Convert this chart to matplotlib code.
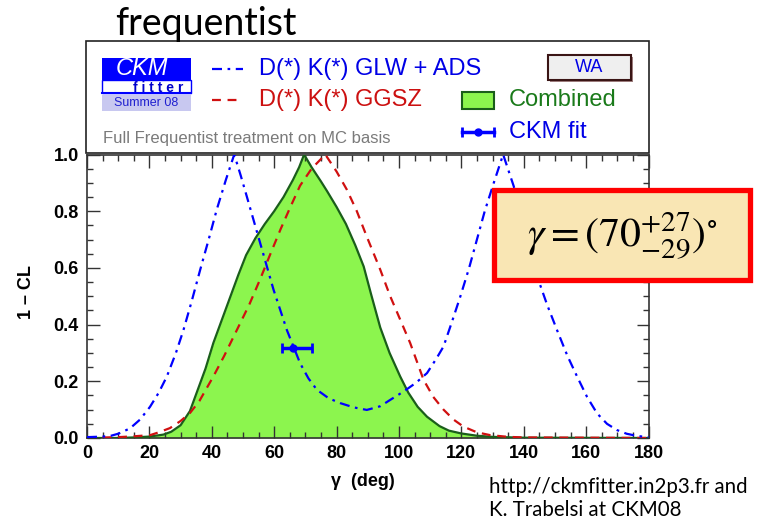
import numpy as np
import matplotlib.pyplot as plt
from matplotlib.patches import Rectangle

plt.rcParams['font.family'] = ['Liberation Sans', 'DejaVu Sans']
plt.rcParams['mathtext.fontset'] = 'stix'

# ---------- Data: 1 - CL vs gamma (deg) ----------

# D(*) K(*) GLW + ADS
glw_x = [0, 5, 7.4, 10, 13.8, 17, 20.2, 23, 25.6, 28.5, 30.9, 33.5, 36.3, 39, 41.6, 44.5,
         47.2, 49.3, 51.2, 55.5, 59.8, 64.1, 68.3, 71, 73.7, 77.5, 81.2, 85.5, 89.7, 94,
         98, 101.5, 105.5, 109, 112, 114.3, 117, 119.7, 122.5, 125, 127.5, 130.4, 133.4,
         136.8, 140.5, 144.3, 147.5, 150.7, 154, 157.1, 160.3, 163.5, 166.7, 169.9, 173,
         176.4, 180]
glw_y = [0.003, 0.005, 0.007, 0.015, 0.034, 0.065, 0.11, 0.16, 0.217, 0.30, 0.38, 0.48,
         0.594, 0.70, 0.806, 0.91, 1.0, 0.925, 0.853, 0.688, 0.523, 0.38, 0.264, 0.21,
         0.17, 0.14, 0.123, 0.108, 0.099, 0.112, 0.14, 0.164, 0.195, 0.229, 0.28, 0.323,
         0.41, 0.5, 0.60, 0.70, 0.80, 0.90, 1.0, 0.888, 0.73, 0.57, 0.47, 0.38, 0.29,
         0.217, 0.145, 0.087, 0.05, 0.028, 0.015, 0.007, 0.003]

# D(*) K(*) GGSZ
ggsz_x = [0, 10, 15, 20.2, 23, 26.6, 30, 33, 36, 40.5, 44, 48, 52, 55.5, 59, 62, 65, 68.3,
          72, 76.4, 80, 83.3, 86.5, 89.7, 94, 97.2, 100.5, 103.6, 107.9, 111, 114.3, 117.5,
          120.7, 125, 129.3, 135, 140, 180]
ggsz_y = [0.0, 0.003, 0.006, 0.01, 0.02, 0.035, 0.06, 0.088, 0.13, 0.217, 0.29, 0.38, 0.47,
          0.56, 0.655, 0.735, 0.81, 0.89, 0.95, 1.0, 0.94, 0.876, 0.80, 0.71, 0.594, 0.50,
          0.415, 0.335, 0.205, 0.145, 0.10, 0.065, 0.04, 0.02, 0.01, 0.004, 0.002, 0.0]

# Combined
comb_x = [0, 10, 15, 20, 24.5, 27, 30, 33, 35, 38, 40.5, 43, 46, 48.5, 51, 54, 57, 60, 63,
          66, 68, 69.6, 72, 75, 77, 80, 83, 86, 88.7, 91, 94, 97, 100.4, 103, 106, 109, 113,
          116, 120, 125, 130, 140, 180]
comb_y = [0.0, 0.0, 0.002, 0.005, 0.012, 0.022, 0.045, 0.095, 0.155, 0.245, 0.335, 0.41,
          0.50, 0.575, 0.645, 0.705, 0.755, 0.80, 0.85, 0.91, 0.955, 1.0, 0.955, 0.905,
          0.87, 0.815, 0.755, 0.68, 0.605, 0.51, 0.39, 0.30, 0.217, 0.16, 0.11, 0.075,
          0.042, 0.026, 0.016, 0.008, 0.004, 0.001, 0.0]

# CKM fit point
fit_x = 66.0
fit_y = 0.317
fit_err_lo = 3.6
fit_err_hi = 6.0

x_ticks = [0, 20, 40, 60, 80, 100, 120, 140, 160, 180]
y_ticks = [0.0, 0.2, 0.4, 0.6, 0.8, 1.0]

blue = '#0000ff'
red = '#d01010'
green_fill = '#8cf54e'
green_edge = '#1a5e1a'

W, H = 758, 526
fig = plt.figure(figsize=(W/100, H/100), dpi=100)

# main plot
ax = fig.add_axes([87/W, 1-438/H, 561.5/W, 283.5/H])
ax.fill_between(comb_x, comb_y, 0, color=green_fill, lw=0, zorder=1)
ax.plot(comb_x, comb_y, color=green_edge, lw=1.6, zorder=3)
ax.plot(ggsz_x, ggsz_y, color=red, lw=1.6, dashes=(4, 3), zorder=4)
ax.plot(glw_x, glw_y, color=blue, lw=1.6, dashes=(4.5, 2.5, 1.2, 2.5), zorder=5)
ax.errorbar(fit_x, fit_y, xerr=[[fit_err_lo], [fit_err_hi]], fmt='o', color=blue,
            ms=5, elinewidth=2.5, capsize=3.3, capthick=2, zorder=6)

ax.set_xlim(0, 180)
ax.set_ylim(0, 1)
ax.set_xticks(x_ticks)
ax.set_yticks(y_ticks)
ax.set_xticks(np.arange(0, 181, 5), minor=True)
ax.set_yticks(np.arange(0, 1.001, 0.05), minor=True)
ax.set_yticklabels(['%.1f' % v for v in y_ticks])
ax.tick_params(which='both', direction='in', top=True, right=True, color='#333333',
               labelsize=13, width=1.0)
ax.tick_params(which='major', length=9)
ax.tick_params(which='minor', length=4.5)
ax.tick_params(axis='y', pad=6)
ax.tick_params(axis='x', pad=5)
for lab in ax.get_xticklabels() + ax.get_yticklabels():
    lab.set_fontweight('bold')
for sp in ax.spines.values():
    sp.set_linewidth(1.2)
    sp.set_color('#333333')

ax.set_ylabel('1 \u2013 CL', fontsize=13, fontweight='bold')
ax.yaxis.set_label_coords(-0.093, 0.516)
ax.set_xlabel('\u03b3  (deg)', fontsize=13, fontweight='bold')
ax.xaxis.set_label_coords(0.492, -0.125)

# overlay in pixel units for the legend panel and labels
ov = fig.add_axes([0, 0, 1, 1])
ov.set_xlim(0, W)
ov.set_ylim(H, 0)
ov.axis('off')
ov.patch.set_visible(False)

# legend frame
ov.add_patch(Rectangle((85.7, 41), 563.3, 112, fill=False, ec='#222222', lw=1.2))

# CKMfitter logo
ov.add_patch(Rectangle((102.3, 57.7), 88.7, 22.5, fc='#0000ff', ec='none', zorder=1))
ov.text(142, 68.5, 'CKM', color='white', fontsize=17, style='italic', ha='center',
        va='center', zorder=5)
ov.add_patch(Rectangle((102.3, 80.2), 88.7, 13.1, fc='white', ec='#0000ff', lw=1.0,
                       zorder=1))
ov.plot([102.3, 191], [93.3, 93.3], color='#0000ff', lw=1.5, zorder=2)
ov.text(158, 91.5, 'f i t t e r', color='#0000cc', fontsize=10, fontweight='bold',
        ha='center', va='baseline', zorder=5)
ov.add_patch(Rectangle((102.3, 94.5), 88.7, 16.5, fc='#c8c8f0', ec='none', zorder=1))
ov.text(146.6, 103, 'Summer 08', color='#2020d0', fontsize=9, ha='center', va='center',
        zorder=5)

# legend entries
ov.plot([211.7, 243.3], [68.7, 68.7], color=blue, lw=1.6, dashes=(4.5, 2.5, 1.2, 2.5))
ov.text(259, 68.7, 'D(*) K(*) GLW + ADS', color='#0000e6', fontsize=17, va='center')
ov.plot([211.7, 243.3], [100.3, 100.3], color=red, lw=1.6, dashes=(4, 3))
ov.text(259, 100.3, 'D(*) K(*) GGSZ', color='#cc1010', fontsize=17, va='center')
ov.add_patch(Rectangle((461.7, 92), 32.6, 16.7, fc=green_fill, ec=green_edge, lw=1.5))
ov.text(509, 100.3, 'Combined', color='#1a7a1a', fontsize=17, va='center')
ov.plot([461.7, 494.3], [131.7, 131.7], color=blue, lw=2.5)
ov.plot([461.7, 494.3], [131.7, 131.7], color=blue, ls='none', marker='|', ms=6.5, mew=2)
ov.plot([478], [131.7], color=blue, marker='o', ms=5)
ov.text(509, 131.7, 'CKM fit', color='#0000e6', fontsize=17, va='center')
ov.text(102.7, 139, 'Full Frequentist treatment on MC basis', color='#7a7a7a',
        fontsize=12, va='center')

# WA button
ov.add_patch(Rectangle((549.5, 57), 83.3, 25.3, fc='#a08080', ec='none'))
ov.add_patch(Rectangle((547.7, 55), 83.3, 25.3, fc='#efefef', ec='#3a1515', lw=1.5))
ov.text(589.5, 68, 'WA', color='#0000e6', fontsize=13, ha='center', va='center')

# result box
ov.add_patch(Rectangle((493.5, 189.5), 256, 90, fc='#f9e6b4', ec='#ff0000', lw=3.8))
ov.text(622, 236, r'$\gamma = (70^{+27}_{-29})^{\circ}$', fontsize=30, ha='center',
        va='center', color='black')

# title and credits
ov.text(115, 35, 'frequentist', fontsize=27, family='Lato', color='black', va='baseline')
ov.text(489, 487, 'http://ckmfitter.in2p3.fr and', fontsize=14.8, family='Lato', va='center')
ov.text(489, 510, 'K. Trabelsi at CKM08', fontsize=14.8, family='Lato', va='center')

plt.savefig('out.png', dpi=100)
